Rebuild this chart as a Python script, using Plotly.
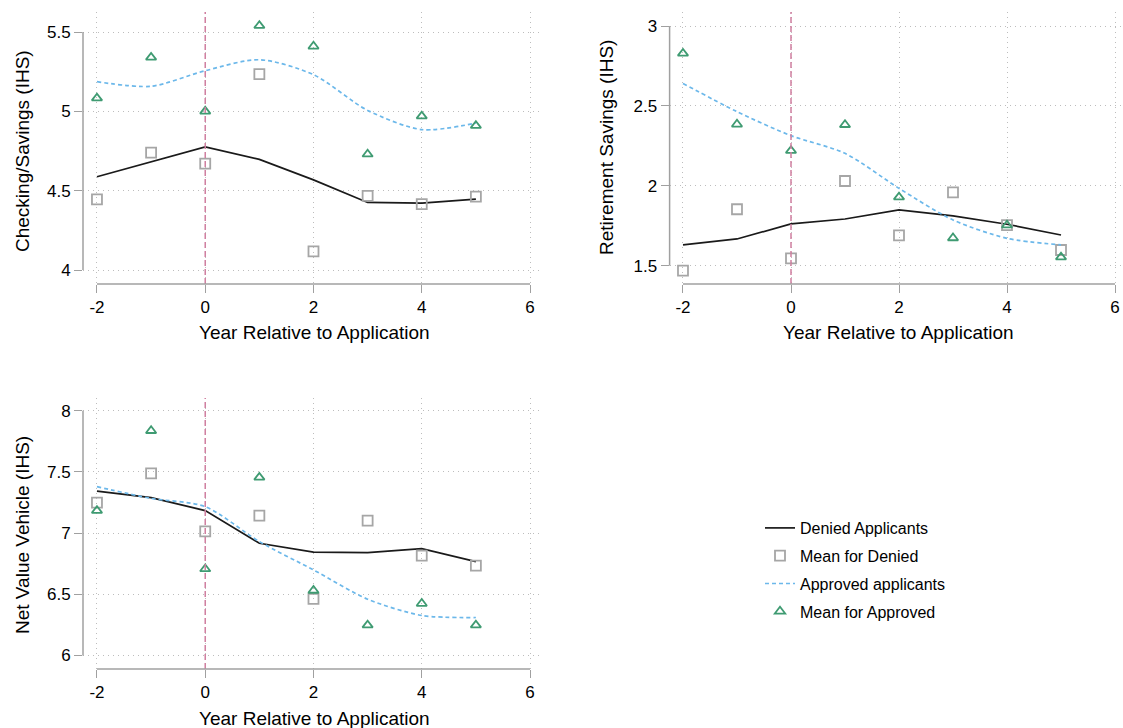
import plotly.graph_objects as go

years = [-2, -1, 0, 1, 2, 3, 4, 5]

# Panel 1: Checking/Savings (IHS)
chk_denied_line = [4.588, 4.682, 4.776, 4.697, 4.568, 4.426, 4.422, 4.447]
chk_denied_mean = [4.445, 4.74, 4.67, 5.235, 4.117, 4.467, 4.415, 4.463]
chk_approved_line = [5.187, 5.158, 5.256, 5.325, 5.231, 5.006, 4.885, 4.926]
chk_approved_mean = [5.083, 5.34, 5.0, 5.54, 5.41, 4.73, 4.97, 4.91]

# Panel 2: Retirement Savings (IHS)
ret_denied_line = [1.630, 1.667, 1.761, 1.792, 1.849, 1.811, 1.759, 1.692]
ret_denied_mean = [1.469, 1.853, 1.546, 2.03, 1.69, 1.959, 1.753, 1.598]
ret_approved_line = [2.641, 2.464, 2.314, 2.203, 1.984, 1.786, 1.671, 1.630]
ret_approved_mean = [2.829, 2.385, 2.22, 2.382, 1.929, 1.673, 1.753, 1.553]

# Panel 3: Net Value Vehicle (IHS)
veh_denied_line = [7.344, 7.290, 7.184, 6.917, 6.844, 6.841, 6.873, 6.767]
veh_denied_mean = [7.249, 7.488, 7.015, 7.143, 6.463, 7.102, 6.816, 6.735]
veh_approved_line = [7.380, 7.284, 7.216, 6.931, 6.699, 6.460, 6.327, 6.310]
veh_approved_mean = [7.184, 7.837, 6.707, 7.456, 6.531, 6.248, 6.424, 6.248]

x_ticks = [-2, 0, 2, 4, 6]
x_tick_labels = ["-2", "0", "2", "4", "6"]
y_ticks_1 = [4, 4.5, 5, 5.5]
y_ticks_2 = [1.5, 2, 2.5, 3]
y_ticks_3 = [6, 6.5, 7, 7.5, 8]
y_titles = ["Checking/Savings (IHS)", "Retirement Savings (IHS)", "Net Value Vehicle (IHS)"]
x_title = "Year Relative to Application"
legend_names = ["Denied Applicants", "Mean for Denied", "Approved applicants", "Mean for Approved"]

W, H = 1123, 728
FONT = "Liberation Sans, Arial, Helvetica, sans-serif"
BLACK = "#1a1a1a"
GREY = "#a6a6a6"
BLUE = "#6cb8ea"
GREEN = "#3f9b72"
PINK = "#d07fa0"
AXIS = "#a0a0a0"
GRID = "#bdbdbd"

def px_x(p):
    return p / W

def px_y(p):
    return 1 - p / H

panels = [
    dict(dom=(83, 543, 12, 284), xr=(-2.258, 6.240), yr=(3.912, 5.626),
         yt=y_ticks_1, data=(chk_denied_line, chk_denied_mean, chk_approved_line, chk_approved_mean),
         ytitle_pos=(22, 151), xtitle_pos=(314, 333)),
    dict(dom=(669.6, 1123, 12, 284), xr=(-2.248, 6.148), yr=(1.385, 3.088),
         yt=y_ticks_2, data=(ret_denied_line, ret_denied_mean, ret_approved_line, ret_approved_mean),
         ytitle_pos=(607, 148), xtitle_pos=(898, 333)),
    dict(dom=(83, 543, 398, 669), xr=(-2.258, 6.240), yr=(5.889, 8.105),
         yt=y_ticks_3, data=(veh_denied_line, veh_denied_mean, veh_approved_line, veh_approved_mean),
         ytitle_pos=(22, 535), xtitle_pos=(314, 718)),
]

fig = go.Figure()
layout = dict(
    width=W, height=H, margin=dict(l=0, r=0, t=0, b=0),
    paper_bgcolor="white", plot_bgcolor="white",
    font=dict(family=FONT, size=16, color="black"),
    showlegend=True,
)
shapes = []
annotations = []

for i, p in enumerate(panels):
    n = "" if i == 0 else str(i + 1)
    xa, ya = "x" + n, "y" + n
    l, r, t, b = p["dom"]
    layout["xaxis" + n] = dict(
        domain=[px_x(l), px_x(r)], range=list(p["xr"]), anchor=ya,
        tickvals=x_ticks, ticktext=x_tick_labels, ticks="outside", ticklen=8,
        tickcolor=AXIS, tickwidth=1.3,
        showgrid=True, gridcolor=GRID, griddash="1px,4px", gridwidth=1.2,
        zeroline=False, showline=False, tickfont=dict(size=17),
    )
    layout["yaxis" + n] = dict(
        domain=[px_y(b), px_y(t)], range=list(p["yr"]), anchor=xa,
        tickvals=p["yt"], ticktext=[("%g" % v) for v in p["yt"]], ticks="outside", ticklen=8,
        tickcolor=AXIS, tickwidth=1.3,
        showgrid=True, gridcolor=GRID, griddash="1px,4px", gridwidth=1.2,
        zeroline=False, showline=False, tickfont=dict(size=17),
    )
    dl, dm, al, am = p["data"]
    show = i == 0
    fig.add_trace(go.Scatter(x=years, y=dl, mode="lines", name=legend_names[0],
                             line=dict(color=BLACK, width=1.7), xaxis=xa, yaxis=ya,
                             showlegend=show, legendgroup="a"))
    fig.add_trace(go.Scatter(x=years, y=dm, mode="markers", name=legend_names[1],
                             marker=dict(symbol="square-open", size=10, color=GREY, line=dict(width=1.8)),
                             xaxis=xa, yaxis=ya, showlegend=show, legendgroup="b"))
    fig.add_trace(go.Scatter(x=years, y=al, mode="lines", name=legend_names[2],
                             line=dict(color=BLUE, width=1.7, dash="4px,3px", shape="spline", smoothing=0.8),
                             xaxis=xa, yaxis=ya, showlegend=show, legendgroup="c"))
    fig.add_trace(go.Scatter(x=years, y=am, mode="markers", name=legend_names[3],
                             marker=dict(symbol="triangle-up-open", size=9, color=GREEN, line=dict(width=1.8)),
                             xaxis=xa, yaxis=ya, showlegend=show, legendgroup="d"))
    shapes.append(dict(type="line", xref=xa, yref=ya + " domain", x0=0, x1=0, y0=0, y1=1,
                       line=dict(color=PINK, width=1.5, dash="6px,3px")))
    shapes.append(dict(type="line", xref=xa + " domain", yref=ya, x0=0, x1=0,
                       y0=p["yt"][0], y1=p["yt"][-1], line=dict(color=AXIS, width=1.5)))
    shapes.append(dict(type="line", xref=xa, yref=ya + " domain", x0=x_ticks[0], x1=x_ticks[-1],
                       y0=0, y1=0, line=dict(color=AXIS, width=1.5)))
    ytx, yty = p["ytitle_pos"]
    annotations.append(dict(text=y_titles[i], xref="paper", yref="paper", x=px_x(ytx), y=px_y(yty),
                            textangle=-90, showarrow=False, font=dict(size=19),
                            xanchor="center", yanchor="middle"))
    xtx, xty = p["xtitle_pos"]
    annotations.append(dict(text=x_title, xref="paper", yref="paper", x=px_x(xtx), y=px_y(xty),
                            showarrow=False, font=dict(size=19), xanchor="center", yanchor="middle"))

layout["shapes"] = shapes
layout["annotations"] = annotations
layout["legend"] = dict(x=px_x(760), y=px_y(511), xanchor="left", yanchor="top",
                        font=dict(size=16), tracegroupgap=4, bgcolor="rgba(0,0,0,0)")
fig.update_layout(**layout)
fig.write_html("out.html")
